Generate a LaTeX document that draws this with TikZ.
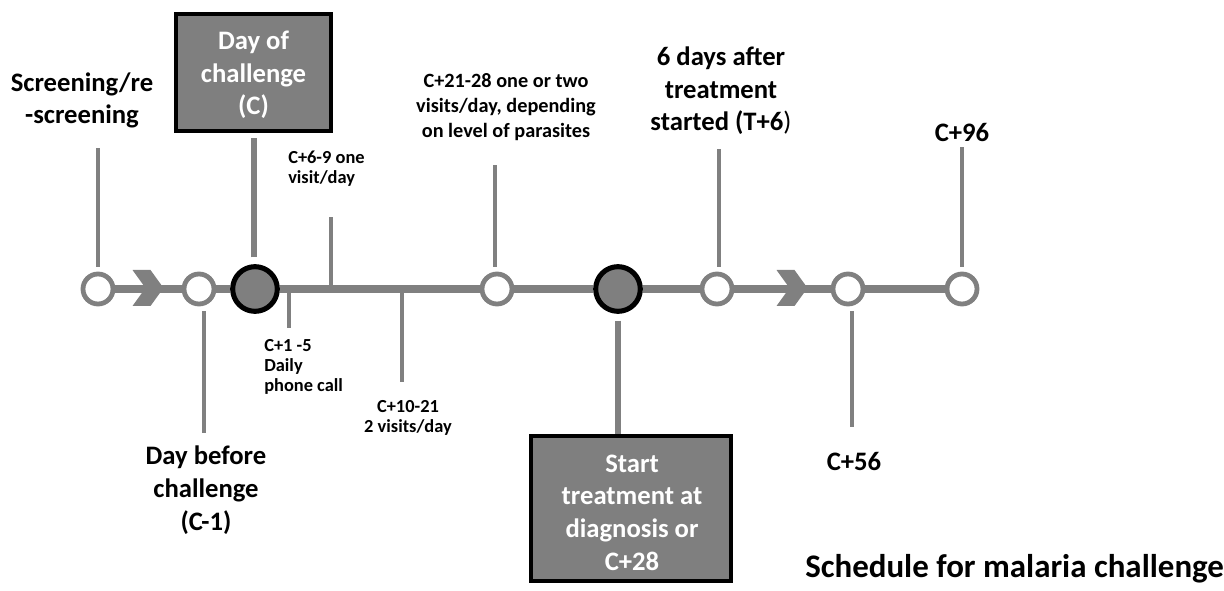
\documentclass[tikz,border=0pt]{standalone}
\usepackage{fontspec}
\setmainfont{Carlito}
\usetikzlibrary{calc}
\definecolor{tlgray}{RGB}{128,128,128}
\definecolor{boxgray}{RGB}{127,127,127}
\begin{document}
\begin{tikzpicture}[x=0.75pt,y=-0.75pt,
  big/.style={font=\fontsize{20}{24.4}\selectfont\bfseries, align=center, inner sep=0pt},
  small/.style={font=\fontsize{13.8}{15}\selectfont\bfseries, align=left, inner sep=0pt},
  mid/.style={font=\fontsize{15.2}{19.1}\selectfont\bfseries, align=center, inner sep=0pt},
  wcirc/.style={circle, draw=tlgray, fill=white, line width=3.6pt, minimum size=22.5pt, inner sep=0pt},
  dcirc/.style={circle, draw=black, fill=boxgray, line width=3.8pt, minimum size=33.5pt, inner sep=0pt},
  dbox/.style={draw=black, fill=boxgray, line width=3pt, inner sep=0pt},
  boxtext/.style={big, text=white},
  tline/.style={draw=tlgray, line width=6pt},
  vthick/.style={draw=tlgray, line width=4.5pt},
  vmed/.style={draw=tlgray, line width=3pt},
  vthin/.style={draw=tlgray, line width=2.5pt},
  chev/.style={fill=tlgray}
]
\useasboundingbox (0,0) rectangle (1224,591);

% boxes
\node[dbox, minimum width=116pt, minimum height=88pt] (bc) at (253.5,72.5) {};
\node[boxtext, anchor=base] (bct) at (253.5,115) {Day of\\challenge\\(C)};
\node[dbox, minimum width=150pt, minimum height=108.75pt] (bt) at (631,508.5) {};
\node[boxtext, anchor=base] (btt) at (632,570) {Start\\treatment at\\diagnosis or\\C+28};

% circles
\node[wcirc] (c1) at (98,289) {};
\node[wcirc] (c2) at (199,289) {};
\node[dcirc] (c3) at (255,289) {};
\node[wcirc] (c4) at (497,289) {};
\node[dcirc] (c5) at (618,289) {};
\node[wcirc] (c6) at (717,289) {};
\node[wcirc] (c7) at (848,289) {};
\node[wcirc] (c8) at (962,289) {};

% labels (anchor base = baseline of last line)
\node[big, anchor=base] (l1) at (82,124) {Screening/re\\-screening};
\node[big, anchor=base] (l2) at (206,530) {Day before\\challenge\\(C-1)};
\node[small, anchor=base west] (l4) at (288,184) {C+6-9 one\\visit/day};
\node[small, anchor=base west] (l5) at (264,392) {C+1 -5\\Daily\\phone call};
\node[small, align=center, anchor=base] (l6) at (408,432) {C+10-21\\2 visits/day};
\node[mid, anchor=base] (l7) at (506,138) {C+21-28 one or two\\visits/day, depending\\on level of parasites};
\node[big, anchor=base] (l9) at (721,131) {6 days after\\treatment\\started (T+6{\mdseries )}};
\node[big, anchor=base] (l10) at (854,470) {C+56};
\node[big, anchor=base] (l11) at (962,142) {C+96};
\node[font=\fontsize{24.7}{29}\selectfont\bfseries, inner sep=0pt, anchor=base west] (title) at (805,577) {Schedule for malaria challenge};

% free ends of the vertical connectors
\coordinate (e1) at (98,148);
\coordinate (e2) at (204,433);
\coordinate (e4) at (331,217);
\coordinate (e5) at (289,328);
\coordinate (e6) at (402,382);
\coordinate (e7) at (495,165);
\coordinate (e9) at (719,149);
\coordinate (e10) at (852,427);
\coordinate (e11) at (962,147);

% ticks on the timeline
\draw[vthin] (c3 -| e4) -- (e4);
\draw[vthin] (c3 -| e5) -- (e5);
\draw[vthin] (c3 -| e6) -- (e6);

% timeline
\draw[tline] (c1.east) -- (c2.west);
\draw[tline] (c2.east) -- (c3.west);
\draw[tline] (c3.east) -- (c4.west);
\draw[tline] (c4.east) -- (c5.west);
\draw[tline] (c5.east) -- (c6.west);
\draw[tline] (c6.east) -- (c7.west);
\draw[tline] (c7.east) -- (c8.west);

% chevrons
\coordinate (ch1) at (147.5,288);
\coordinate (ch2) at (791.5,288);
\foreach \c in {ch1,ch2}
  \fill[chev] ($(\c)+(-15,-18)$) -- ++(18,0) -- ++(13,18) -- ++(-13,18) -- ++(-18,0) -- ++(13,-18) -- cycle;

% vertical connectors
\draw[vmed, shorten <=3.5pt] (c1.north) -- (e1);
\draw[vmed, shorten <=3.5pt] (c2.south -| e2) -- (e2);
\draw[vthick, shorten <=5pt, shorten >=4pt] (c3.north -| bc.south) -- (bc.south);
\draw[vmed, shorten <=3.5pt] (c4.north -| e7) -- (e7);
\draw[vthick, shorten <=5pt] (c5.south) -- (c5.south |- bt.north);
\draw[vmed, shorten <=3.5pt] (c6.north -| e9) -- (e9);
\draw[vmed, shorten <=3.5pt] (c7.south -| e10) -- (e10);
\draw[vmed, shorten <=3.5pt] (c8.north) -- (e11);
\end{tikzpicture}
\end{document}
